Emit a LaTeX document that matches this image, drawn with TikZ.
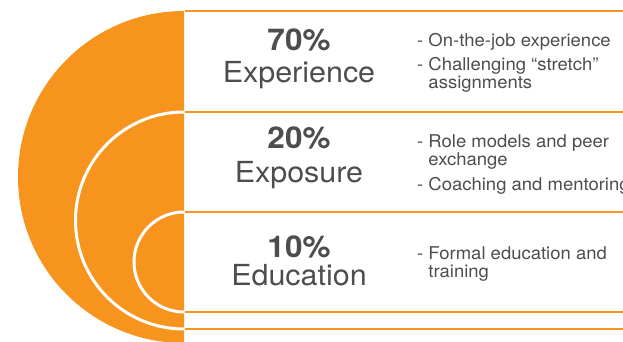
\documentclass[tikz,border=0pt]{standalone}
\usepackage{fontspec}
\setmainfont[FakeStretch=1.05]{TeX Gyre Heros}
\definecolor{brandorange}{HTML}{F7941D}
\definecolor{txtgray}{HTML}{4D4D4D}

\begin{document}
\begin{tikzpicture}[x=1pt, y=-1pt, line join=round,
  pct/.style={anchor=base, inner sep=0pt, text=txtgray, font=\fontsize{30}{30}\selectfont\bfseries},
  lbl/.style={anchor=base, inner sep=0pt, text=txtgray, font=\fontsize{29}{29}\selectfont},
  item/.style={anchor=base west, inner sep=0pt, text=txtgray, align=left, font=\fontsize{17.6}{18}\selectfont},
  rule/.style={brandorange, line width=1.8pt}]
\useasboundingbox (0,0) rectangle (623,341);
\clip (0,0) rectangle (623,341);
% half disc with its white rims
\fill[brandorange] (184,11) arc[start angle=270, end angle=90, radius=166] -- cycle;
\draw[white, line width=3pt] (184,112) arc[start angle=270, end angle=90, radius=108.5];
\draw[white, line width=3pt] (184,212) arc[start angle=270, end angle=90, radius=50];
% rules
\foreach \y in {11,112,212,312,329}
  \draw[rule] (185,\y) -- (623,\y);
% left column
\foreach \p/\w/\a/\b [count=\i] in {70\%/Experience/50/82, 20\%/Exposure/148/182, 10\%/Education/257/285}{
  \node[pct] (pct\i) at (299,\a) {\p};
  \node[lbl] (lbl\i) at (299,\b) {\w};
}
% right column (multi-line nodes sit on their last line)
\node[item] (exp1) at (417,46) {-~On-the-job experience};
\node[item] (exp2) at (417,88) {-~Challenging “stretch”\\\phantom{-~}assignments};
\node[item] (expo1) at (417,165.5) {-~Role models and peer\\\phantom{-~}exchange};
\node[item] (expo2) at (417,190) {-~Coaching and mentoring};
\node[item] (edu1) at (417,277) {-~Formal education and\\\phantom{-~}training};
\end{tikzpicture}
\end{document}
